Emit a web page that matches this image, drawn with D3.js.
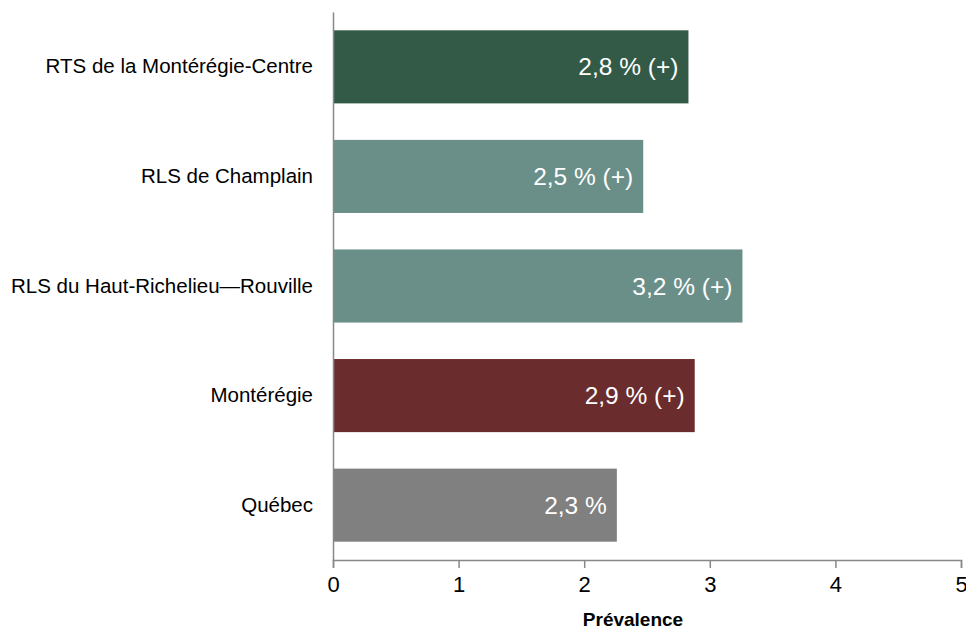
<!DOCTYPE html>
<html>
<head>
<meta charset="utf-8">
<script src="https://cdn.jsdelivr.net/npm/d3@7"></script>
<style>
  body { margin: 0; background: #fff; }
  text { font-family: "Liberation Sans", Arial, sans-serif; }
</style>
</head>
<body>
<div class="chart"></div>
<script>
var svgWidth = 966;
var svgHeight = 631;

var margin = { top: 12, right: 5, bottom: 71, left: 333 };

var height = svgHeight - margin.top - margin.bottom;
var width = svgWidth - margin.left - margin.right;

// data
var regions = ["RTS de la Montérégie-Centre", "RLS de Champlain",
  "RLS du Haut-Richelieu\u2014Rouville", "Montérégie", "Québec"];
var prevalence = [2.83, 2.47, 3.26, 2.88, 2.26];
var barLabels = ["2,8 % (+)", "2,5 % (+)", "3,2 % (+)", "2,9 % (+)", "2,3 %"];
var barColors = ["#325a47", "#6a8f89", "#6a8f89", "#6b2c2d", "#808080"];
var xTicks = [0, 1, 2, 3, 4, 5];

var svg = d3.select(".chart")
  .append("svg")
  .attr("height", svgHeight)
  .attr("width", svgWidth);

var chartGroup = svg.append("g")
  .attr("transform", `translate(${margin.left}, ${margin.top})`);

// scales
var xScale = d3.scaleLinear()
  .domain([0, 5])
  .range([0, width]);

var yScale = d3.scaleBand()
  .domain(regions)
  .range([0, height])
  .paddingInner(0.333)
  .paddingOuter(0.167);

// bars
chartGroup.selectAll("rect.bar")
  .data(prevalence)
  .enter()
  .append("rect")
  .attr("class", "bar")
  .attr("x", 0)
  .attr("y", (d, i) => yScale(regions[i]))
  .attr("width", d => xScale(d))
  .attr("height", yScale.bandwidth())
  .attr("fill", (d, i) => barColors[i]);

// value labels inside bars
chartGroup.selectAll("text.val")
  .data(prevalence)
  .enter()
  .append("text")
  .attr("class", "val")
  .attr("x", d => xScale(d) - 10)
  .attr("y", (d, i) => yScale(regions[i]) + yScale.bandwidth() / 2)
  .attr("dy", "0.35em")
  .attr("text-anchor", "end")
  .attr("fill", "#fff")
  .style("font-size", "24.5px")
  .text((d, i) => barLabels[i]);

// x axis
var xAxis = d3.axisBottom(xScale)
  .tickValues(xTicks)
  .tickSize(8)
  .tickPadding(8)
  .tickFormat(d3.format("d"));

var gx = chartGroup.append("g")
  .attr("transform", `translate(0, ${height})`)
  .call(xAxis);
gx.select(".domain").attr("stroke", "#888").attr("stroke-width", 1.5);
gx.selectAll(".tick line").attr("stroke", "#888").attr("stroke-width", 1.5);
gx.selectAll(".tick text")
  .attr("fill", "#000")
  .style("font-size", "22px");

// y axis
var yAxis = d3.axisLeft(yScale)
  .tickSize(0)
  .tickPadding(20);

var gy = chartGroup.append("g").call(yAxis);
gy.select(".domain").attr("stroke", "#888").attr("stroke-width", 1.5);
gy.selectAll(".tick text")
  .attr("fill", "#000")
  .style("font-size", "20.5px");

// axis title
chartGroup.append("text")
  .attr("x", width / 2 - 14)
  .attr("y", height + 66)
  .attr("text-anchor", "middle")
  .style("font-family", "'Liberation Sans Narrow', 'Liberation Sans', sans-serif")
  .style("font-size", "19px")
  .style("font-weight", "bold")
  .attr("fill", "#000")
  .text("Prévalence");
</script>
</body>
</html>
